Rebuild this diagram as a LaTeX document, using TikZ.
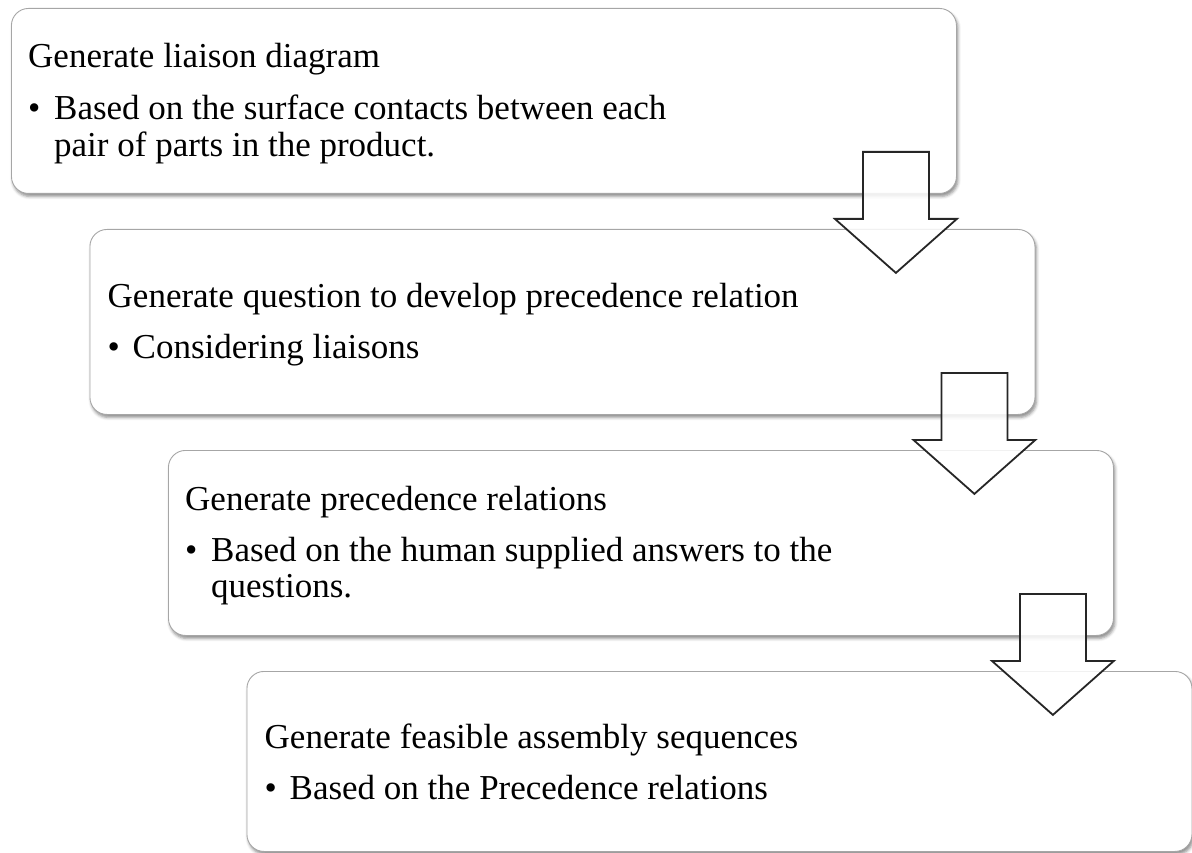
\documentclass[tikz,border=0pt]{standalone}
\usepackage{fontspec}
\setmainfont{Liberation Serif}
\usetikzlibrary{calc,shadows.blur}

\tikzset{
  stagebox/.style={draw=black!35, line width=0.9pt, fill=white,
    rounded corners=17pt, minimum width=945pt, minimum height=185pt,
    anchor=north west, inner sep=0pt,
    blur shadow={shadow xshift=1.5pt, shadow yshift=-3pt,
      shadow blur radius=3pt, shadow opacity=45}},
  headline/.style={anchor=base west, inner sep=0pt,
    font=\fontsize{35}{40}\selectfont},
  bulletdot/.style={headline},
  bodyline/.style={headline},
  blockarrow/.style={draw=black!85, line width=1.8pt, fill=white,
    fill opacity=0.85, line join=miter},
}

\begin{document}
\begin{tikzpicture}[x=1pt,y=-1pt]
\useasboundingbox (0,0) rectangle (1192,853);

% the four stages, stepping down to the right
\node[stagebox] (b1) at (11,8)     {};
\node[stagebox] (b2) at (89.5,229) {};
\node[stagebox] (b3) at (168,450)  {};
\node[stagebox, minimum height=180pt] (b4) at (246.5,671){};

% stage 1
\node[headline]  (t1) at ($(b1.north west)+(17,60)$)  {Generate liaison diagram};
\node[bulletdot] (d1) at ($(b1.north west)+(17,112)$) {•};
\node[bodyline]  (l1a) at ($(b1.north west)+(43,112)$) {Based on the surface contacts between each};
\node[bodyline]  (l1b) at ($(b1.north west)+(43,149)$) {pair of parts in the product.};

% stage 2
\node[headline]  (t2) at ($(b2.north west)+(18,78)$)  {Generate question to develop precedence relation};
\node[bulletdot] (d2) at ($(b2.north west)+(18,129)$) {•};
\node[bodyline]  (l2a) at ($(b2.north west)+(43,129)$) {Considering liaisons};

% stage 3
\node[headline]  (t3) at ($(b3.north west)+(17,60)$)  {Generate precedence relations};
\node[bulletdot] (d3) at ($(b3.north west)+(17,111)$) {•};
\node[bodyline]  (l3a) at ($(b3.north west)+(43,111)$) {Based on the human supplied answers to the};
\node[bodyline]  (l3b) at ($(b3.north west)+(43,147)$) {questions.};

% stage 4
\node[headline]  (t4) at ($(b4.north west)+(18,77)$)  {Generate feasible assembly sequences};
\node[bulletdot] (d4) at ($(b4.north west)+(18,128)$) {•};
\node[bodyline]  (l4a) at ($(b4.north west)+(43,128)$) {Based on the Precedence relations};

% hollow block arrows leading from one stage to the next
\foreach \i in {1,2,3}{
  \coordinate (a\i) at ($(b\i.south east)+(-61,-42)$);
  \draw[blockarrow] (a\i) ++(-33,0) -- ++(66,0) -- ++(0,67) -- ++(28,0)
    -- ++(-61,54) -- ++(-61,-54) -- ++(28,0) -- cycle;
}
\end{tikzpicture}
\end{document}
